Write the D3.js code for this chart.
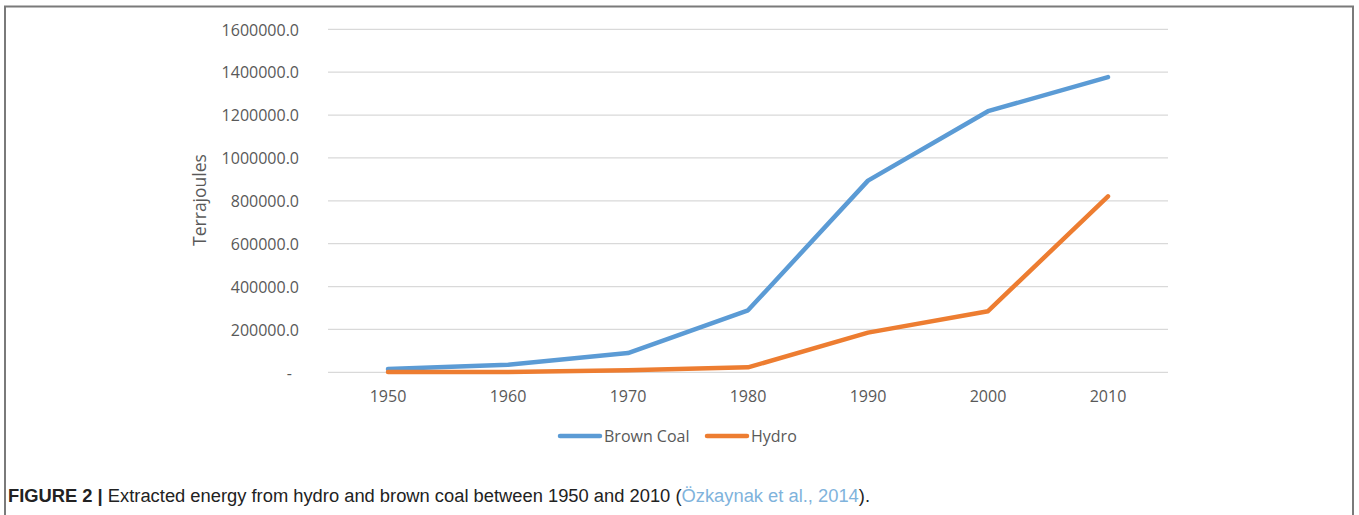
<!DOCTYPE html>
<html>
<head>
<meta charset="utf-8">
<script src="https://cdn.jsdelivr.net/npm/d3@7"></script>
<style>
  html, body { margin: 0; padding: 0; background: #fff; }
  svg { display: block; }
</style>
</head>
<body>
<svg id="chart" width="1359" height="515"></svg>
<script>
// Extracted energy (terajoules) by decade
const years = ["1950", "1960", "1970", "1980", "1990", "2000", "2010"];
const brownCoal = [15000, 35000, 90000, 289000, 894000, 1218000, 1377000];
const hydro = [1000, 1500, 10000, 23000, 185000, 285000, 821000];
const yTicks = [0, 200000, 400000, 600000, 800000, 1000000, 1200000, 1400000, 1600000];
const seriesNames = ["Brown Coal", "Hydro"];
const seriesColors = ["#5B9BD5", "#ED7D31"];

const svg = d3.select("#chart");
const axisFont = "'Open Sans', 'Noto Sans', sans-serif";
const textGrey = "#595959";

// Outer frame (open at the bottom)
svg.append("path")
  .attr("d", "M5,515 V6.5 H1353 V515")
  .attr("fill", "none")
  .attr("stroke", "#7a7a7a")
  .attr("stroke-width", 2);

const x = d3.scaleBand().domain(years).range([328, 1168]);
const y = d3.scaleLinear().domain([0, 1600000]).range([372.3, 29.3]);

// Horizontal gridlines
svg.append("g")
  .selectAll("line")
  .data(yTicks)
  .join("line")
  .attr("x1", 328).attr("x2", 1168)
  .attr("y1", d => y(d)).attr("y2", d => y(d))
  .attr("stroke", "#d9d9d9")
  .attr("stroke-width", 1.3);

// Y axis labels (zero shown as a dash)
const yAxis = d3.axisLeft(y)
  .tickValues(yTicks)
  .tickSize(0)
  .tickPadding(0)
  .tickFormat(d => d === 0 ? "-" : d3.format(".1f")(d));
const gy = svg.append("g").attr("transform", "translate(299,0)").call(yAxis);
gy.select(".domain").remove();
gy.selectAll("text")
  .attr("font-family", axisFont)
  .attr("font-size", 16)
  .attr("fill", textGrey)
  .attr("dy", "0.36em")
  .attr("x", d => d === 0 ? -7 : 0);

// X axis labels
const xAxis = d3.axisBottom(x).tickSize(0).tickPadding(0);
const gx = svg.append("g").attr("transform", "translate(0,388)").call(xAxis);
gx.select(".domain").remove();
gx.selectAll("text")
  .attr("font-family", axisFont)
  .attr("font-size", 16)
  .attr("fill", textGrey)
  .attr("dy", "0.85em");

// Axis title
svg.append("text")
  .attr("transform", "translate(206,200) rotate(-90)")
  .attr("text-anchor", "middle")
  .attr("font-family", axisFont)
  .attr("font-size", 17.5)
  .attr("fill", textGrey)
  .text("Terrajoules");

// Series lines
const line = d3.line()
  .x((d, i) => x(years[i]) + x.bandwidth() / 2)
  .y(d => y(d));

[brownCoal, hydro].forEach((vals, k) => {
  svg.append("path")
    .datum(vals)
    .attr("d", line)
    .attr("fill", "none")
    .attr("stroke", seriesColors[k])
    .attr("stroke-width", 4.5)
    .attr("stroke-linejoin", "round")
    .attr("stroke-linecap", "round");
});

// Legend
const legendX = [560, 707];
seriesNames.forEach((name, k) => {
  const g = svg.append("g").attr("transform", `translate(${legendX[k]},436)`);
  g.append("line")
    .attr("x1", 0).attr("x2", 40)
    .attr("stroke", seriesColors[k])
    .attr("stroke-width", 4.5)
    .attr("stroke-linecap", "round");
  g.append("text")
    .attr("x", 44)
    .attr("dy", "0.36em")
    .attr("font-family", axisFont)
    .attr("font-size", 16)
    .attr("fill", textGrey)
    .text(name);
});

// Figure caption
const cap = svg.append("text")
  .attr("x", 8)
  .attr("y", 502)
  .attr("font-family", "'Liberation Sans', Arial, sans-serif")
  .attr("font-size", 18)
  .attr("fill", "#222")
  .attr("textLength", 862)
  .attr("lengthAdjust", "spacingAndGlyphs");
cap.append("tspan").attr("font-weight", "bold").text("FIGURE 2 | ");
cap.append("tspan").text("Extracted energy from hydro and brown coal between 1950 and 2010 (");
cap.append("tspan").attr("fill", "#7fb3dc").text("Özkaynak et al., 2014");
cap.append("tspan").text(").");
</script>
</body>
</html>
